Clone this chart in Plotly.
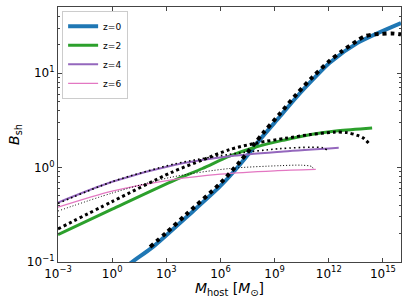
import numpy as np
import plotly.graph_objects as go

# values, stored as log10(M_host) and log10(B_sh)
z0_logm = [0.0, 1.1, 2.26, 4.14, 5.97, 7.07, 8.34, 9.29, 10.23, 11.11, 12.05, 13.6, 16.0]
z0_logb = [-1.16, -1.0, -0.84, -0.52, -0.20, 0.03, 0.33, 0.54, 0.75, 0.93, 1.11, 1.32, 1.53]

z0d_logm = [2.1, 3.0, 4.14, 5.97, 7.07, 8.34, 9.29, 10.23, 11.11, 12.05, 12.72, 13.55, 13.99, 14.5, 14.93, 15.48, 16.0]
z0d_logb = [-0.84, -0.69, -0.49, -0.17, 0.06, 0.36, 0.57, 0.78, 0.96, 1.13, 1.23, 1.34, 1.39, 1.41, 1.415, 1.42, 1.41]

z2_logm = [-3.0, 0.0, 3.5, 5.0, 6.5, 8.0, 9.5, 11.0, 12.5, 14.4]
z2_logb = [-0.71, -0.44, -0.13, -0.01, 0.12, 0.22, 0.29, 0.35, 0.39, 0.42]

z2d_logm = [-3.0, 0.0, 3.3, 5.0, 6.5, 8.0, 9.6, 11.0, 12.3, 13.0, 13.6, 13.93, 14.2]
z2d_logb = [-0.65, -0.36, -0.05, 0.08, 0.19, 0.26, 0.31, 0.35, 0.375, 0.37, 0.34, 0.31, 0.26]

z4_logm = [-3.0, 0.0, 3.5, 6.5, 9.5, 12.55]
z4_logb = [-0.37, -0.15, 0.03, 0.12, 0.17, 0.21]

z4d_logm = [-3.0, 0.0, 3.5, 6.5, 9.3, 11.0, 11.66, 11.94]
z4d_logb = [-0.38, -0.15, 0.04, 0.14, 0.20, 0.215, 0.21, 0.18]

z6_logm = [-3.0, 0.0, 3.3, 6.0, 9.0, 11.28]
z6_logb = [-0.42, -0.25, -0.13, -0.07, -0.035, -0.02]

z6d_logm = [-3.0, 0.0, 3.2, 6.5, 9.3, 10.5, 11.06, 11.15]
z6d_logb = [-0.46, -0.27, -0.105, -0.01, 0.02, 0.025, 0.01, -0.02]

x_tick_exp = [-3, 0, 3, 6, 9, 12, 15]
y_tick_exp = [-1, 0, 1]

def p(a):
    return 10.0 ** np.array(a)

fig = go.Figure()

solid = [
    ("z=0", z0_logm, z0_logb, "#1f77b4", 4),
    ("z=2", z2_logm, z2_logb, "#2ca02c", 3),
    ("z=4", z4_logm, z4_logb, "#9467bd", 2),
    ("z=6", z6_logm, z6_logb, "#e377c2", 1.2),
]
dotted = [
    (z0d_logm, z0d_logb, 4, "4px,4px"),
    (z2d_logm, z2d_logb, 3, "3px,3px"),
    (z4d_logm, z4d_logb, 1.6, "1.6px,3px"),
    (z6d_logm, z6d_logb, 1.0, "1px,2px"),
]

for name, lm, lb, c, w in solid:
    fig.add_trace(go.Scatter(x=p(lm), y=p(lb), mode="lines", name=name,
                             line=dict(color=c, width=w, shape="spline", smoothing=0.8)))
for lm, lb, w, d in dotted:
    fig.add_trace(go.Scatter(x=p(lm), y=p(lb), mode="lines", showlegend=False,
                             line=dict(color="black", width=w, dash=d, shape="spline", smoothing=0.8)))

def sup(e):
    s = str(e).replace("-", "\u2212")
    return "10<sup>" + s + "</sup>"

minor_y = []
for dec in [-1, 0, 1]:
    for k in range(2, 10):
        v = k * 10.0 ** dec
        if v < 10 ** 1.7:
            minor_y.append(v)

axcol = "#444444"
fig.update_xaxes(type="log", range=[-3, 16], showgrid=False, zeroline=False, automargin=False,
                 showline=True, linecolor=axcol, linewidth=1.2, mirror="ticks",
                 ticks="inside", ticklen=4, tickcolor=axcol,
                 tickvals=[10.0 ** e for e in x_tick_exp],
                 ticktext=[sup(e) for e in x_tick_exp],
                 tickfont=dict(size=12, color="black"),
                 title=dict(text="<i>M</i><sub>host</sub> [<i>M</i><sub>\u2299</sub>]",
                            font=dict(size=14, color="black"), standoff=1))
fig.update_yaxes(type="log", range=[-1, 1.7], showgrid=False, zeroline=False, automargin=False,
                 showline=True, linecolor=axcol, linewidth=1.2, mirror="ticks",
                 ticks="inside", ticklen=4, tickcolor=axcol,
                 tickvals=[10.0 ** e for e in y_tick_exp],
                 ticktext=[sup(e) for e in y_tick_exp],
                 tickfont=dict(size=12, color="black"),
                 minor=dict(ticks="inside", ticklen=2, tickcolor=axcol,
                            tickmode="array", tickvals=minor_y, showgrid=False),
                 title=dict(text="<i>B</i><sub>sh</sub>",
                            font=dict(size=14, color="black"), standoff=3))

fig.update_layout(
    width=408, height=304,
    margin=dict(l=58, r=7, t=7, b=42, autoexpand=False),
    paper_bgcolor="white", plot_bgcolor="white",
    font=dict(family="DejaVu Sans", color="black"),
    showlegend=True,
    legend=dict(x=0.012, y=0.985, xanchor="left", yanchor="top",
                bgcolor="rgba(255,255,255,0.8)", bordercolor="#cccccc", borderwidth=1,
                font=dict(size=9), tracegroupgap=0, itemwidth=30),
)

fig.write_html("out.html", config={"displayModeBar": False},
               post_script="document.body.style.margin='0';document.body.style.overflow='hidden';")
